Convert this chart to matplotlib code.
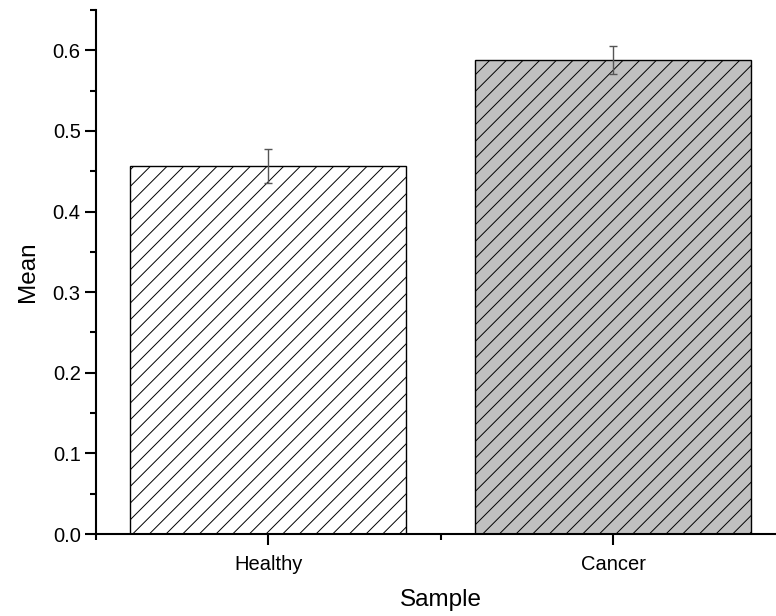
import matplotlib
matplotlib.use("Agg")
import matplotlib.pyplot as plt
from matplotlib.ticker import MultipleLocator, FixedLocator

# data
samples = ['Healthy', 'Cancer']
means = [0.457, 0.588]
errors = [0.021, 0.017]
fills = ['white', '#c0c0c0']

plt.rcParams['font.family'] = ['Liberation Sans', 'DejaVu Sans']
plt.rcParams['hatch.linewidth'] = 0.7
plt.rcParams['hatch.color'] = '#333333'

fig = plt.figure(figsize=(7.76, 6.16), dpi=100)
ax = fig.add_axes([0.1237, 0.1331, 0.889, 0.8507])

x = [1, 2]
ax.bar(x, means, width=0.8, color=fills, edgecolor='black', linewidth=1.0,
       hatch='//', zorder=2)
ax.errorbar(x, means, yerr=errors, fmt='none', ecolor='#555555',
            elinewidth=1.0, capsize=3, capthick=1.0, zorder=3)

ax.set_xlim(0.5, 2.5)
ax.set_ylim(0, 0.65)
ax.set_xticks(x)
ax.set_xticklabels(samples)
ax.xaxis.set_minor_locator(FixedLocator([0.5, 1.5, 2.5]))
ax.yaxis.set_major_locator(MultipleLocator(0.1))
ax.yaxis.set_minor_locator(MultipleLocator(0.05))
ax.yaxis.set_major_formatter(plt.FormatStrFormatter('%.1f'))

for side in ['top', 'right']:
    ax.spines[side].set_visible(False)
for side in ['left', 'bottom']:
    ax.spines[side].set_linewidth(1.5)

ax.tick_params(which='major', direction='out', length=8, width=1.5,
               labelsize=14.5, pad=3)
ax.tick_params(which='minor', direction='out', length=4.5, width=1.5)
ax.tick_params(axis='x', pad=7)

ax.set_xlabel('Sample', fontsize=17.5)
ax.set_ylabel('Mean', fontsize=17.5)
ax.xaxis.label.set_va('center')
ax.yaxis.label.set_va('center')
ax.xaxis.set_label_coords((441 - 96) / (0.889 * 776), -(600 - 534) / 524)
ax.yaxis.set_label_coords(-(96 - 28) / (0.889 * 776), 0.5)

fig.savefig('out.png', dpi=100)
